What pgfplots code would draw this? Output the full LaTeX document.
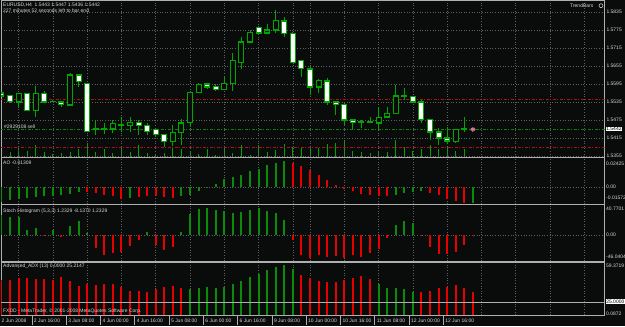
\documentclass[border=0pt]{standalone}
\usepackage{pgfplots}
\pgfplotsset{compat=1.18}
\usepackage{pgfplotstable}
\usepackage{fontspec}
\setmainfont{Liberation Sans}
\newcommand\mt{\fontsize{5}{6}\selectfont}
\definecolor{bgc}{RGB}{10,12,12}
\definecolor{gridc}{RGB}{95,95,95}
\definecolor{framec}{RGB}{175,175,175}
\definecolor{cg}{RGB}{0,165,0}
\definecolor{ig}{RGB}{10,140,10}
\definecolor{ir}{RGB}{232,0,0}
\definecolor{dr}{RGB}{170,20,20}
\definecolor{dg}{RGB}{20,125,20}
\definecolor{labc}{RGB}{215,215,215}
\definecolor{pk}{RGB}{255,100,170}

\pgfplotstableread{
i o h l c
0 1.5565 1.5568 1.5552 1.5555
1 1.5558 1.5560 1.5532 1.5538
3 1.5562 1.5565 1.5505 1.5508
5 1.5562 1.5572 1.5532 1.5535
7 1.5535 1.5536 1.5518 1.5528
9 1.5625 1.5628 1.5585 1.5602
10 1.5598 1.5600 1.5435 1.5438
16 1.5468 1.5475 1.5425 1.5458
17 1.5458 1.5465 1.5425 1.5438
18 1.5442 1.5443 1.5418 1.5428
19 1.5428 1.5430 1.5385 1.5402
24 1.5595 1.5598 1.5578 1.5585
25 1.5588 1.5595 1.5572 1.5578
30 1.5782 1.5785 1.5764 1.5765
33 1.5805 1.5818 1.5752 1.5762
34 1.5762 1.5768 1.5665 1.5668
35 1.5672 1.5675 1.5618 1.5648
36 1.5645 1.5655 1.5558 1.5585
38 1.5605 1.5615 1.5525 1.5535
39 1.5535 1.5538 1.5492 1.5528
40 1.5528 1.5532 1.5458 1.5475
41 1.5475 1.5476 1.5442 1.5468
48 1.5552 1.5555 1.5534 1.5535
49 1.5535 1.5542 1.5465 1.5478
50 1.5478 1.5480 1.5408 1.5435
51 1.5435 1.5448 1.5392 1.5415
52 1.5415 1.5452 1.5395 1.5405
55 1.5443 1.5447 1.5436 1.5442
}\bear

\pgfplotstableread{
i o h l c
2 1.5535 1.5563 1.5515 1.5562
4 1.5508 1.5588 1.5485 1.5562
6 1.5537 1.5542 1.5535 1.5538
8 1.5525 1.5632 1.5522 1.5625
11 1.5445 1.5475 1.5425 1.5446
12 1.5445 1.5465 1.5428 1.5446
13 1.5445 1.5475 1.5432 1.5462
14 1.5458 1.5485 1.5435 1.5459
15 1.5458 1.5485 1.5435 1.5468
20 1.5402 1.5458 1.5388 1.5432
21 1.5432 1.5478 1.5392 1.5465
22 1.5468 1.5572 1.5452 1.5568
23 1.5568 1.5598 1.5566 1.5592
26 1.5578 1.5618 1.5575 1.5598
27 1.5598 1.5698 1.5572 1.5672
28 1.5668 1.5752 1.5645 1.5735
29 1.5735 1.5775 1.5732 1.5768
31 1.5765 1.5795 1.5764 1.5775
32 1.5775 1.5842 1.5765 1.5808
37 1.5585 1.5612 1.5565 1.5608
42 1.5468 1.5475 1.5448 1.5469
43 1.5468 1.5485 1.5465 1.5469
44 1.5465 1.5518 1.5442 1.5482
45 1.5485 1.5518 1.5482 1.5498
46 1.5498 1.5592 1.5495 1.5555
47 1.5552 1.5582 1.5542 1.5555
53 1.5402 1.5443 1.5398 1.5442
54 1.5445 1.5485 1.5435 1.5446
}\bull

\pgfplotstableread{
i v
0 300
1 500
2 1000
3 600
4 1200
5 500
6 300
7 400
8 500
9 800
10 1400
11 500
12 800
13 400
14 1000
15 500
16 1200
17 400
18 300
19 400
20 1000
21 800
22 500
23 300
24 800
25 200
26 1000
27 400
28 1200
29 200
30 1200
31 500
32 700
33 1300
34 1000
35 1000
36 800
37 900
38 1300
39 1400
40 1700
41 600
42 500
43 400
44 600
45 500
46 1700
47 1000
48 600
49 800
50 1200
51 800
52 1000
53 600
54 800
55 100
}\vol

\pgfplotstableread{
i v
0 -0.0125
1 -0.0105
2 -0.0100
3 -0.0092
4 -0.0084
5 -0.0079
6 -0.0075
7 -0.0064
8 -0.0056
9 -0.0042
15 -0.0092
21 -0.0075
22 -0.0064
23 -0.0036
24 -0.0004
25 0.0028
26 0.0069
27 0.0084
28 0.0103
29 0.0131
30 0.0153
31 0.0181
32 0.0203
33 0.0215
46 -0.0064
47 -0.0048
48 -0.0042
49 -0.0033
55 -0.0130
}\aog
\pgfplotstableread{
i v
10 -0.0044
11 -0.0050
12 -0.0064
13 -0.0075
14 -0.0098
16 -0.0084
17 -0.0075
18 -0.0075
19 -0.0084
20 -0.0088
34 0.0203
35 0.0176
36 0.0140
37 0.0098
38 0.0056
39 0.0019
40 -0.0014
41 -0.0033
42 -0.0061
43 -0.0069
44 -0.0078
45 -0.0079
50 -0.0048
51 -0.0064
52 -0.0098
53 -0.0117
54 -0.0131
}\aor

\pgfplotstableread{
i v
0 28.0
1 25.6
2 25.6
3 7.0
4 10.2
6 7.0
8 13.0
9 19.6
10 2.4
17 3.8
21 3.8
22 29.0
23 36.4
24 38.2
25 35.0
26 33.6
27 30.4
28 31.8
29 35.0
30 37.4
31 33.6
32 30.4
33 21.0
46 14.0
47 19.6
48 16.4
}\stg
\pgfplotstableread{
i v
5 -1.4
7 -3.2
11 -18.6
12 -28.0
13 -25.6
14 -23.4
15 -15.0
16 -7.0
18 -14.0
19 -21.0
20 -16.4
34 -7.0
35 -28.0
36 -32.6
37 -28.0
38 -30.4
39 -29.4
40 -32.6
41 -28.0
42 -30.4
43 -25.6
44 -19.6
45 -3.8
49 -1.0
50 -16.4
51 -27.0
52 -27.0
53 -23.4
54 -14.0
55 -0.4
}\str

\pgfplotstableread{
i v
22 36.2
23 37.1
24 38.2
25 37.6
26 38.5
27 40.6
28 43.8
29 46.8
30 49.7
31 53.2
32 55.6
33 57.6
34 54.1
44 40.9
45 37.6
46 37.6
47 36.5
48 34.1
}\adg
\pgfplotstableread{
i v
0 44.4
1 44.4
2 45.9
3 46.4
4 45.3
5 45.3
6 44.4
7 46.8
8 43.5
9 39.1
10 40.6
11 40.0
12 40.6
13 40.6
14 38.2
15 35.0
16 35.0
17 34.1
18 36.5
19 38.5
20 39.1
21 37.6
35 48.8
36 45.9
37 43.5
38 42.9
39 42.9
40 44.4
41 46.4
42 47.9
43 45.3
49 33.5
50 35.0
51 37.1
52 38.2
53 40.0
54 37.1
55 33.5
}\adr

\pgfplotsset{
 panel/.style={scale only axis, width=603.5bp, xmin=-0.058, xmax=70.36,
  anchor=south west, axis line style={draw=framec, line width=1bp},
  xtick={2,6,10,14,18,22,26,30,34,36,40,44,48,52,56,60,64,68},
  xticklabels={}, xmajorgrids,
  major grid style={draw=gridc, line width=0.6bp, dash pattern=on 0.8bp off 1.8bp},
  major tick length=0pt, clip=true},
 wick/.style={draw=none, mark=none, error bars/.cd, y dir=plus, y explicit,
  error mark=none, error bar style={draw=cg, line width=1bp}},
 body/.style={draw=none, mark=none, error bars/.cd, y dir=plus, y explicit,
  error mark=none, error bar style={draw=#1, line width=6bp}},
 inner/.style={draw=none, mark=none, error bars/.cd, y dir=plus, y explicit,
  error mark=none, error bar style={draw=#1, line width=4bp}},
}

\begin{document}
\begin{tikzpicture}[x=1bp,y=1bp]
\fill[bgc] (0,0) rectangle (625,326);
\useasboundingbox (0,0) rectangle (625,326);

% volumes
\begin{axis}[panel, at={(1bp,169bp)}, height=156bp, ymin=0, ymax=15600, hide axis]
\addplot[ycomb, draw=cg, line width=1bp, mark=none] table[x=i,y=v] {\vol};
\end{axis}

% main price panel
\begin{axis}[panel, at={(1bp,169bp)}, height=156bp,
  ymin=1.535167, ymax=1.58717,
  ytick={1.5355,1.5415,1.5475,1.5535,1.5595,1.5655,1.5715,1.5775,1.5835},
  ymajorgrids, yticklabel pos=right, scaled y ticks=false,
  yticklabel style={font=\mt, text=labc, anchor=west, xshift=-1.5bp,
    /pgf/number format/.cd, fixed, fixed zerofill, precision=4, assume math mode=true}]
\addplot[dr, line width=0.8bp, dash pattern=on 3bp off 1.5bp on 1bp off 1.5bp] coordinates {(-1,1.5545) (71,1.5545)};
\addplot[dr, line width=0.8bp, dash pattern=on 3bp off 1.5bp on 1bp off 1.5bp] coordinates {(-1,1.5385) (71,1.5385)};
\addplot[dg, line width=0.8bp, dash pattern=on 3bp off 1.5bp on 1bp off 1.5bp] coordinates {(-1,1.5445) (71,1.5445)};
\addplot[wick] table[x=i, y=l, y error plus expr={\thisrow{h}-\thisrow{l}}] {\bull};
\addplot[wick] table[x=i, y=l, y error plus expr={\thisrow{h}-\thisrow{l}}] {\bear};
\addplot[body=cg] table[x=i, y expr={min(\thisrow{o},\thisrow{c})-0.00017}, y error plus expr={abs(\thisrow{c}-\thisrow{o})+0.00034}] {\bull};
\addplot[inner=bgc] table[x=i, y expr={min(\thisrow{o},\thisrow{c})+0.00017}, y error plus expr={max(abs(\thisrow{c}-\thisrow{o})-0.00034,0)}] {\bull};
\addplot[body=cg] table[x=i, y expr={min(\thisrow{o},\thisrow{c})-0.00017}, y error plus expr={abs(\thisrow{c}-\thisrow{o})+0.00034}] {\bear};
\addplot[inner=white] table[x=i, y expr={min(\thisrow{o},\thisrow{c})+0.00017}, y error plus expr={max(abs(\thisrow{c}-\thisrow{o})-0.00034,0)}] {\bear};
\addplot[only marks, mark=asterisk, mark size=2.3bp, draw=pk, line width=0.9bp] coordinates {(55,1.5444)};
\end{axis}

% AO
\begin{axis}[panel, at={(1bp,122bp)}, height=46bp, ymin=-0.014216, ymax=0.02425,
  ytick={0}, yticklabels={}, ymajorgrids]
\addplot[ycomb, draw=ig, line width=2bp, mark=none] table[x=i,y=v] {\aog};
\addplot[ycomb, draw=ir, line width=2bp, mark=none] table[x=i,y=v] {\aor};
\end{axis}

% Stoch histogram
\begin{axis}[panel, at={(1bp,65bp)}, height=56bp, ymin=-36.4, ymax=42,
  ytick={0}, yticklabels={}, ymajorgrids]
\addplot[ycomb, draw=ig, line width=2bp, mark=none] table[x=i,y=v] {\stg};
\addplot[ycomb, draw=ir, line width=2bp, mark=none] table[x=i,y=v] {\str};
\end{axis}

% ADX
\begin{axis}[panel, at={(1bp,11bp)}, height=53bp, ymin=13.547, ymax=60.24,
  ytick={25}, yticklabels={}]
\addplot[ycomb, draw=ig, line width=2bp, mark=none] table[x=i,y=v] {\adg};
\addplot[ycomb, draw=ir, line width=2bp, mark=none] table[x=i,y=v] {\adr};
\addplot[draw=framec, line width=0.8bp] coordinates {(-1,25) (71,25)};
\end{axis}

% texts
\begin{scope}[every node/.style={font=\mt, text=labc, inner sep=0pt, anchor=west}]
\node at (3,320.5) {EURUSD,H4\ \ 1.5443 1.5447 1.5436 1.5442};
\node at (3,315) {227 minutes 52 seconds left to bar end};
\node at (4,199.5) {\#2929108 sell};
\node at (570,320.3) {TrendBars};
\node at (3,163) {AO -0.01309};
\node at (3,114.5) {Stoch Histogram (5,3,3) 1.2329 -8.1370 1.2329};
\node at (3,60) {Advanced\_ADX (13) 0.0000 25.2147};
\node at (3,14.5) {FXDD - MetaTrader, © 2001-2008 MetaQuotes Software Corp.};
\node at (606,162) {0.02425};
\node at (606,139) {0.00};
\node at (606,128) {-0.01572};
\node at (606,117.5) {40.7701};
\node at (606,91) {0.00};
\node at (606,69.3) {-46.0404};
\node at (606,60.3) {59.3719};
\node at (606,12.7) {0.0872};
\node[fill=white, text=black, inner sep=0.6bp] at (605.5,197) {1.5442};
\node[fill=white, text=black, inner sep=0.6bp] at (605.5,24.5) {25.0000};
\node at (1.5,5.5) {2 Jun 2008};
\node at (33.8,5.5) {2 Jun 16:00};
\node at (68.1,5.5) {3 Jun 08:00};
\node at (102.4,5.5) {4 Jun 00:00};
\node at (136.6,5.5) {4 Jun 16:00};
\node at (170.9,5.5) {5 Jun 08:00};
\node at (205.2,5.5) {6 Jun 00:00};
\node at (239.5,5.5) {6 Jun 16:00};
\node at (273.8,5.5) {9 Jun 08:00};
\node at (308.0,5.5) {10 Jun 00:00};
\node at (342.3,5.5) {10 Jun 16:00};
\node at (376.6,5.5) {11 Jun 08:00};
\node at (410.9,5.5) {12 Jun 00:00};
\node at (445.1,5.5) {12 Jun 16:00};
\end{scope}
\draw[labc, line width=0.5bp] (601,320.3) circle (2);
\foreach \X in {31.8,66.1,100.4,134.6,168.9,203.2,237.5,271.8,306.0,340.3,374.6,408.9,443.1}
  \draw[framec, line width=0.5bp] (\X,10.5) -- (\X,1.5);
\end{tikzpicture}
\end{document}
